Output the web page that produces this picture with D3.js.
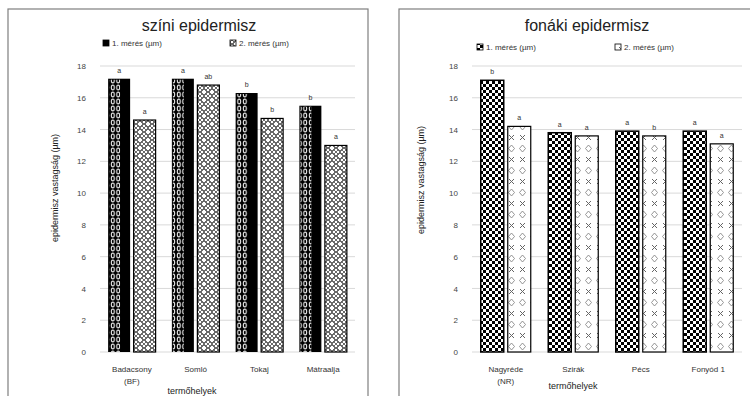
<!DOCTYPE html>
<html><head><meta charset="utf-8">
<script src="https://cdn.jsdelivr.net/npm/d3@7/dist/d3.min.js"></script>
<style>body{margin:0;background:#fff}svg{display:block;font-family:"Liberation Sans",Arial,sans-serif}</style>
</head><body><svg id="c" width="750" height="396"></svg>
<script>
// ---- data ----
const yTicks = [0,2,4,6,8,10,12,14,16,18];
const leftTitle = "színi epidermisz";
const rightTitle = "fonáki epidermisz";
const leftCategories = [["Badacsony","(BF)"],["Somló"],["Tokaj"],["Mátraalja"]];
const rightCategories = [["Nagyréde","(NR)"],["Szirák"],["Pécs"],["Fonyód 1"]];
const leftSeriesNames = ["1. mérés (µm)","2. mérés (µm)"];
const rightSeriesNames = ["1. mérés (µm)","2. mérés (µm)"];
const leftS1 = [17.2,17.2,16.3,15.5];
const leftS2 = [14.6,16.8,14.7,13.0];
const rightS1 = [17.1,13.8,13.9,13.9];
const rightS2 = [14.2,13.6,13.6,13.1];
const leftLetters1 = ["a","a","b","b"];
const leftLetters2 = ["a","ab","b","a"];
const rightLetters1 = ["b","a","a","a"];
const rightLetters2 = ["a","a","b","a"];
const yLabel = "epidermisz vastagság (µm)";
const xLabel = "termőhelyek";

const svg = d3.select("#c");
const defs = svg.append("defs");
// patterns
let p = defs.append("pattern").attr("id","ovals").attr("patternUnits","userSpaceOnUse").attr("width",5.5).attr("height",7);
p.append("rect").attr("width",5.5).attr("height",7).attr("fill","#000");
p.append("ellipse").attr("cx",2.75).attr("cy",3.5).attr("rx",1.5).attr("ry",2.5).attr("fill","none").attr("stroke","#fff").attr("stroke-width",1);
p = defs.append("pattern").attr("id","dots").attr("patternUnits","userSpaceOnUse").attr("width",8).attr("height",8);
p.append("rect").attr("width",8).attr("height",8).attr("fill","#fff");
[[4,1],[1,4],[7,4],[4,7],[0,0],[8,0],[0,8],[8,8],[2,2],[6,2],[2,6],[6,6]].forEach(([x,y])=>p.append("circle").attr("cx",x).attr("cy",y).attr("r",0.9).attr("fill","#222"));
p = defs.append("pattern").attr("id","checker").attr("patternUnits","userSpaceOnUse").attr("width",6).attr("height",6);
p.append("rect").attr("width",6).attr("height",6).attr("fill","#000");
p.append("rect").attr("width",3).attr("height",3).attr("fill","#fff");
p.append("rect").attr("x",3).attr("y",3).attr("width",3).attr("height",3).attr("fill","#fff");
p = defs.append("pattern").attr("id","xdia").attr("patternUnits","userSpaceOnUse").attr("width",11).attr("height",22).attr("x",0);
p.append("rect").attr("width",11).attr("height",22).attr("fill","#fff");
p.append("path").attr("d","M3,3 L8,8 M8,3 L3,8").attr("stroke","#666").attr("stroke-width",1);
p.append("path").attr("d","M5.5,13 L8.5,16.5 L5.5,20 L2.5,16.5 Z").attr("stroke","#888").attr("stroke-width",0.9).attr("fill","none");

function panel(o){
  const g = svg.append("g");
  g.append("rect").attr("x",o.box[0]).attr("y",o.box[1]).attr("width",o.box[2]).attr("height",o.box[3])
    .attr("fill","#fff").attr("stroke","#7f7f7f").attr("stroke-width",1.2);
  const x = d3.scaleBand().domain(d3.range(o.cats.length)).range([o.x0,o.x1]);
  const y = d3.scaleLinear().domain([0,18]).range([352,66]);
  // grid
  g.selectAll("line.grid").data(yTicks).join("line").attr("x1",o.x0).attr("x2",o.x1)
    .attr("y1",d=>y(d)).attr("y2",d=>y(d)).attr("stroke","#d9d9d9").attr("stroke-width",1);
  // y axis tick labels
  const ax = g.append("g").attr("transform",`translate(${o.x0},0)`)
    .call(d3.axisLeft(y).tickValues(yTicks).tickSize(0).tickPadding(o.tickPad));
  ax.select(".domain").remove();
  ax.selectAll("text").attr("font-size",8).attr("fill","#444").attr("font-family","Liberation Sans, Arial, sans-serif");
  const bw = o.bw, gap = o.gap;
  const off = (x.bandwidth() - 2*bw - gap)/2;
  o.s1.forEach((v,i)=>{
    const bx = x(i)+off;
    if(o.style==="left"){
      g.append("rect").attr("x",bx).attr("y",y(v)).attr("width",bw).attr("height",y(0)-y(v)).attr("fill","#000");
      g.append("rect").attr("x",bx+1).attr("y",y(v)+1).attr("width",bw*0.5).attr("height",y(0)-y(v)-1).attr("fill","url(#ovals)");
    } else {
      g.append("rect").attr("x",bx).attr("y",y(v)).attr("width",bw).attr("height",y(0)-y(v)).attr("fill","url(#checker)").attr("stroke","#000").attr("stroke-width",1.5);
    }
    g.append("text").attr("x",bx+bw/2).attr("y",y(v)-6).attr("text-anchor","middle").attr("font-size",7).attr("fill","#333").text(o.l1[i]);
  });
  o.s2.forEach((v,i)=>{
    const bx = x(i)+off+bw+gap;
    g.append("rect").attr("x",bx).attr("y",y(v)).attr("width",bw).attr("height",y(0)-y(v))
      .attr("fill",o.style==="left"?"url(#dots)":"url(#xdia)").attr("stroke","#000").attr("stroke-width",1.2);
    g.append("text").attr("x",bx+bw/2).attr("y",y(v)-6).attr("text-anchor","middle").attr("font-size",7).attr("fill","#333").text(o.l2[i]);
  });
  // category labels
  o.cats.forEach((c,i)=>{
    c.forEach((line,j)=>{
      g.append("text").attr("x",x(i)+x.bandwidth()/2).attr("y",372+j*12).attr("text-anchor","middle")
        .attr("font-size",8).attr("fill","#333").text(line);
    });
  });
  // titles
  g.append("text").attr("x",o.titleX).attr("y",31).attr("text-anchor","middle").attr("font-size",16).attr("fill","#222").text(o.title);
  g.append("text").attr("transform",`translate(${o.ylx},${o.yly}) rotate(-90)`).attr("text-anchor","middle")
    .attr("font-size",9).attr("fill","#222").text(yLabel);
  g.append("text").attr("x",o.xlx).attr("y",o.xly).attr("text-anchor","middle").attr("font-size",9).attr("fill","#222").text(xLabel);
  // legend
  o.names.forEach((n,i)=>{
    const lx = o.legX[i];
    g.append("rect").attr("x",lx).attr("y",o.legY-6).attr("width",6).attr("height",6)
      .attr("fill", i===0 ? (o.style==="left"?"#000":"url(#checker)") : (o.style==="left"?"url(#dots)":"url(#xdia)"))
      .attr("stroke","#000").attr("stroke-width",0.8);
    g.append("text").attr("x",lx+9).attr("y",o.legY).attr("font-size",8).attr("fill","#333").text(n);
  });
}

panel({box:[8,9,360,400], x0:100, x1:355, bw:22, gap:3.5, style:"left", s1:leftS1, s2:leftS2,
  l1:leftLetters1, l2:leftLetters2, cats:leftCategories, names:leftSeriesNames, title:leftTitle,
  titleX:199, ylx:58, yly:188, xlx:192, xly:394, legX:[103,230], legY:46, tickPad:14});
panel({box:[399,9,360,400], x0:472, x1:742, bw:23, gap:4, style:"right", s1:rightS1, s2:rightS2,
  l1:rightLetters1, l2:rightLetters2, cats:rightCategories, names:rightSeriesNames, title:rightTitle,
  titleX:587, ylx:424, yly:180, xlx:573, xly:389, legX:[477,615], legY:50, tickPad:14});
</script></body></html>
